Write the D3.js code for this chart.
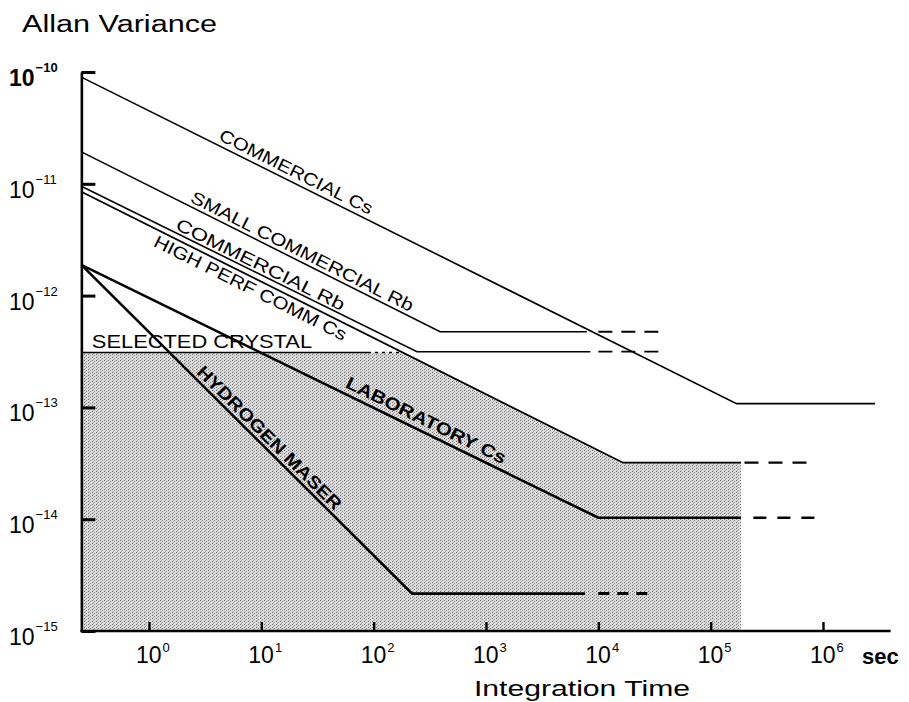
<!DOCTYPE html>
<html><head><meta charset="utf-8">
<script src="https://cdn.jsdelivr.net/npm/d3@7"></script>
<style>body{margin:0;background:#fff}svg{display:block}</style>
</head><body>
<svg id="c" width="909" height="702"></svg>
<script>
// ---------- data ----------
const xDecades = [1, 10, 100, 1e3, 1e4, 1e5, 1e6];
const xTickExp = ["0", "1", "2", "3", "4", "5", "6"];
const yDecades = [1e-10, 1e-11, 1e-12, 1e-13, 1e-14, 1e-15];
const yTickExp = ["−10", "−11", "−12", "−13", "−14", "−15"];
const tauRange = [0.25, 4e6];
const sigmaRange = [1e-15, 1e-10];

// [tau (s), Allan deviation]
const commCs       = [[0.25, 9.0e-11], [1.7e5, 1.08e-13], [2.9e6, 1.08e-13]];
const smallRb      = [[0.25, 1.93e-11], [390, 4.75e-13], [7.9e3, 4.75e-13]];
const smallRbExt   = [[1.0e4, 4.75e-13], [3.9e4, 4.75e-13]];
const commRb       = [[0.25, 9.5e-12], [243, 3.15e-13], [8.5e3, 3.15e-13]];
const commRbExt    = [[1.0e4, 3.15e-13], [3.9e4, 3.15e-13]];
const hpCs         = [[0.25, 8.5e-12], [1.66e4, 3.2e-14], [1.86e5, 3.2e-14]];
const hpCsExt      = [[2.0e5, 3.2e-14], [8.5e5, 3.2e-14]];
const labCs        = [[0.25, 1.88e-12], [1.0e4, 1.03e-14], [1.86e5, 1.03e-14]];
const labCsExt     = [[2.4e5, 1.03e-14], [9.8e5, 1.03e-14]];
const maser        = [[0.25, 1.88e-12], [220, 2.16e-15], [7.6e3, 2.16e-15]];
const maserExt     = [[1.0e4, 2.16e-15], [3.1e4, 2.16e-15]];
const crystal      = [[0.25, 3.1e-13], [89, 3.1e-13]];
const crystalExt   = [[89, 3.1e-13], [170, 3.1e-13]];

// ---------- scales ----------
const svg = d3.select("#c");
const x = d3.scaleLog().domain([1, 1e6]).range([149, 823]);
const y = d3.scaleLog().domain(sigmaRange).range([631, 72]);
const FONT = "'Liberation Sans', Arial, sans-serif";

// stipple pattern for the shaded region
const defs = svg.append("defs");
const pat = defs.append("pattern").attr("id", "stip").attr("patternUnits", "userSpaceOnUse")
  .attr("width", 4).attr("height", 3);
pat.append("rect").attr("width", 4).attr("height", 3).attr("fill", "#dcdcdc");
pat.append("rect").attr("x", 0).attr("y", 0).attr("width", 1).attr("height", 1).attr("fill", "#6a6a6a");
pat.append("rect").attr("x", 2).attr("y", 1).attr("width", 1).attr("height", 1).attr("fill", "#8a8a8a");
pat.append("rect").attr("x", 1).attr("y", 2).attr("width", 1).attr("height", 1).attr("fill", "#a8a8a8");

// log-log interpolation along a series
function sigmaAt(line, t) {
  for (let i = 0; i < line.length - 1; i++) {
    const [t0, s0] = line[i], [t1, s1] = line[i + 1];
    if (t >= t0 && t <= t1 || i === line.length - 2) {
      const f = (Math.log10(t) - Math.log10(t0)) / (Math.log10(t1) - Math.log10(t0));
      return Math.pow(10, Math.log10(s0) + f * (Math.log10(s1) - Math.log10(s0)));
    }
  }
}
// tau where first segment of a line reaches a sigma level
function tauAtSigma(line, s) {
  const [t0, s0] = line[0], [t1, s1] = line[1];
  const f = (Math.log10(s) - Math.log10(s0)) / (Math.log10(s1) - Math.log10(s0));
  return Math.pow(10, Math.log10(t0) + f * (Math.log10(t1) - Math.log10(t0)));
}

// shaded region: below crystal level and below high-perf Cs line
const crystalLevel = crystal[0][1];
const tauCross = tauAtSigma(hpCs, crystalLevel);
const shadeEnd = hpCs[hpCs.length - 1][0];
const shade = [[tauRange[0], crystalLevel], [tauCross, crystalLevel], hpCs[1], hpCs[2],
  [shadeEnd, sigmaRange[0]], [tauRange[0], sigmaRange[0]]];
svg.append("path")
  .attr("d", d3.line().x(d => x(d[0])).y(d => y(d[1]))(shade) + "Z")
  .attr("fill", "url(#stip)");

// ---------- curves ----------
const lineGen = d3.line().x(d => x(d[0])).y(d => y(d[1]));
const curves = [
  { d: commCs, w: 1.6 },
  { d: smallRb, w: 1.6 }, { d: smallRbExt, w: 1.8, dash: "14,9" },
  { d: commRb, w: 1.6 }, { d: commRbExt, w: 1.8, dash: "14,9" },
  { d: hpCs, w: 1.8 }, { d: hpCsExt, w: 2.2, dash: "14,10" },
  { d: labCs, w: 2.6 }, { d: labCsExt, w: 2.6, dash: "13,11" },
  { d: maser, w: 2.6 }, { d: maserExt, w: 3, dash: "11,8" },
  { d: crystal, w: 1.6 }, { d: crystalExt, w: 1.6, dash: "3,4" },
];
svg.append("g").selectAll("path").data(curves).join("path")
  .attr("d", c => lineGen(c.d))
  .attr("fill", "none").attr("stroke", "#000")
  .attr("stroke-width", c => c.w)
  .attr("stroke-dasharray", c => c.dash || null)
  .attr("stroke-linejoin", "miter");

// ---------- axes ----------
const axY = svg.append("g").attr("transform", `translate(${x(tauRange[0])},0)`)
  .call(d3.axisRight(y).tickValues(yDecades).tickSize(14).tickSizeOuter(0).tickFormat(""));
axY.select(".domain").attr("stroke-width", 2.6);
axY.selectAll(".tick line").attr("stroke-width", 3);

const axX = svg.append("g").attr("transform", `translate(0,${y(sigmaRange[0])})`)
  .call(d3.axisTop(x).tickValues(xDecades).tickSize(9).tickSizeOuter(0).tickFormat(""));
axX.select(".domain").remove();
axX.selectAll(".tick line").attr("stroke-width", 2.4);
svg.append("line")
  .attr("x1", x(tauRange[0]) - 1).attr("x2", x(tauRange[1]))
  .attr("y1", y(sigmaRange[0])).attr("y2", y(sigmaRange[0]))
  .attr("stroke", "#000").attr("stroke-width", 2.6);

// y tick labels (10 with superscript exponent, one text element each)
const yl = svg.append("g").attr("font-family", FONT).attr("fill", "#000");
yDecades.forEach((v, i) => {
  const t = yl.append("text").attr("x", 9).attr("y", y(v) + 14).attr("font-size", 23)
    .attr("font-weight", i === 0 ? "bold" : "normal");
  t.append("tspan").text("10");
  t.append("tspan").attr("font-size", 13).attr("dx", 1).attr("dy", -14).text(yTickExp[i]);
});
// x tick labels
const xl = svg.append("g").attr("font-family", FONT).attr("fill", "#000");
xDecades.forEach((v, i) => {
  const t = xl.append("text").attr("x", x(v) - 13).attr("y", 663).attr("font-size", 23);
  t.append("tspan").text("10");
  t.append("tspan").attr("font-size", 13).attr("dx", 1).attr("dy", -11).text(xTickExp[i]);
});
svg.append("text").attr("x", 862).attr("y", 664).attr("font-family", FONT)
  .attr("font-size", 22).attr("font-weight", "bold").text("sec");
svg.append("text").attr("x", 474).attr("y", 696).attr("font-family", FONT)
  .attr("font-size", 22).attr("textLength", 216).attr("lengthAdjust", "spacingAndGlyphs")
  .text("Integration Time");
svg.append("text").attr("x", 22).attr("y", 32).attr("font-family", FONT)
  .attr("font-size", 23).attr("textLength", 195).attr("lengthAdjust", "spacingAndGlyphs")
  .text("Allan Variance");

// ---------- curve labels ----------
const labels = [
  { text: "COMMERCIAL Cs", line: commCs, t0: 3.9, t1: 87, off: -5 },
  { text: "SMALL COMMERCIAL Rb", line: smallRb, t0: 2.2, t1: 202, off: -4 },
  { text: "COMMERCIAL Rb", line: commRb, t0: 1.64, t1: 50, off: -3 },
  { text: "HIGH PERF COMM Cs", line: hpCs, t0: 1.25, t1: 62, off: 16.5 },
  { text: "LABORATORY Cs", line: labCs, t0: 52, t1: 1330, off: -6, bold: true },
  { text: "HYDROGEN MASER", line: maser, t0: 2.46, t1: 42.5, off: -4, bold: true },
  { text: "SELECTED CRYSTAL", line: crystal, t0: 0.31, t1: 28.3, off: -4, size: 18.5 },
];
const lg = svg.append("g").attr("font-family", FONT).attr("fill", "#000");
labels.forEach(L => {
  const p0 = [x(L.t0), y(sigmaAt(L.line, L.t0))];
  const p1 = [x(L.t1), y(sigmaAt(L.line, L.t1))];
  const ang = Math.atan2(p1[1] - p0[1], p1[0] - p0[0]) * 180 / Math.PI;
  const len = Math.hypot(p1[0] - p0[0], p1[1] - p0[1]);
  lg.append("text")
    .attr("transform", `translate(${p0[0]},${p0[1]}) rotate(${ang})`)
    .attr("y", L.off)
    .attr("font-size", L.size || 17.5)
    .attr("font-weight", L.bold ? "bold" : "normal")
    .attr("textLength", len).attr("lengthAdjust", "spacingAndGlyphs")
    .text(L.text);
});
</script>
</body></html>
